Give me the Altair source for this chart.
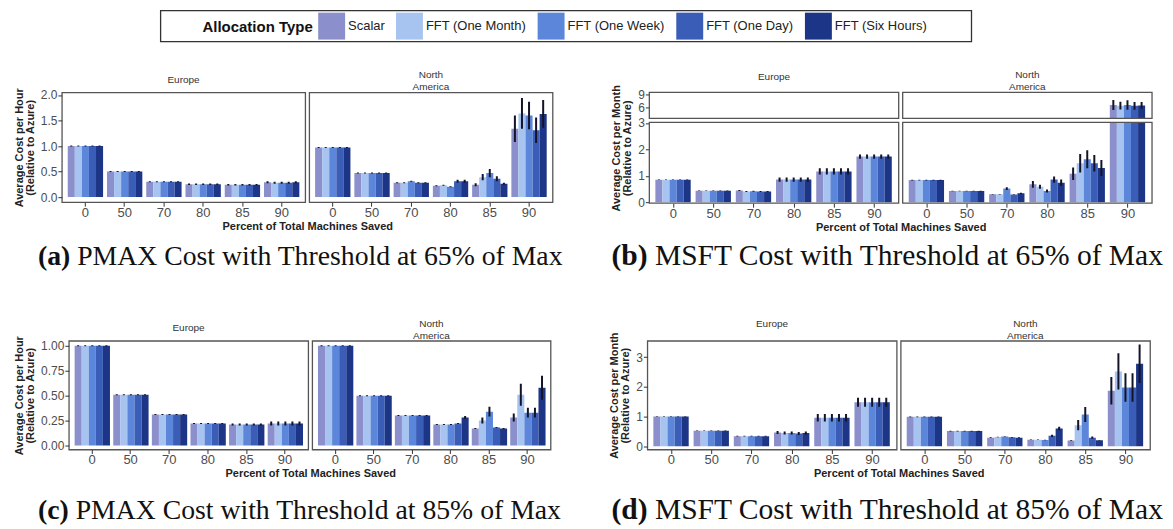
import altair as alt
import pandas as pd

LEVELS = ["0", "50", "70", "80", "85", "90"]
TYPES = ["Scalar", "FFT (One Month)", "FFT (One Week)", "FFT (One Day)", "FFT (Six Hours)"]
COLORS = ["#8b8fcb", "#a7c4f1", "#5b86da", "#3a5eb8", "#1d3586"]

# (a) PMAX, threshold 65%
A_EU_MEAN = [[1.0] * 5, [0.5] * 5, [0.3] * 5, [0.25] * 5, [0.24] * 5, [0.29, 0.28, 0.28, 0.28, 0.29]]
A_EU_ERR = [0.01, 0.01, 0.01, 0.015, 0.015, 0.02]
A_NA_MEAN = [[0.97] * 5, [0.47] * 5, [0.28, 0.28, 0.31, 0.28, 0.28], [0.22, 0.23, 0.20, 0.31, 0.31],
             [0.24, 0.39, 0.47, 0.36, 0.26], [1.34, 1.64, 1.60, 1.31, 1.63]]
A_NA_ERR = [0.01, 0.01, 0.01, [0.01, 0.01, 0.01, 0.03, 0.03], [0.03, 0.06, 0.08, 0.05, 0.02],
            [0.26, 0.30, 0.27, 0.25, 0.27]]

# (b) MSFT, threshold 65%
B_EU_MEAN = [[0.85] * 5, [0.44] * 5, [0.45, 0.41, 0.42, 0.41, 0.41], [0.86] * 5, [1.17] * 5, [1.73] * 5]
B_EU_ERR = [0.01, 0.01, 0.02, 0.08, 0.12, 0.08]
B_NA_MEAN = [[0.84] * 5, [0.43] * 5, [0.31, 0.31, 0.52, 0.30, 0.34], [0.68, 0.59, 0.43, 0.86, 0.74],
             [1.08, 1.48, 1.63, 1.48, 1.30], [6.5, 6.35, 6.5, 6.3, 6.4]]
B_NA_ERR = [0.01, 0.01, [0.01, 0.01, 0.05, 0.01, 0.02], [0.13, 0.08, 0.06, 0.12, 0.12],
            [0.24, 0.35, 0.34, 0.31, 0.30], [1.2, 0.9, 1.1, 0.9, 0.8]]

# (c) PMAX, threshold 85%
C_EU_MEAN = [[1.0] * 5, [0.51] * 5, [0.31] * 5, [0.22] * 5, [0.21] * 5, [0.22] * 5]
C_EU_ERR = [0.005, 0.005, 0.005, 0.005, 0.01, 0.02]
C_NA_MEAN = [[1.0] * 5, [0.5] * 5, [0.3] * 5, [0.21, 0.21, 0.21, 0.22, 0.28],
             [0.17, 0.25, 0.34, 0.18, 0.17], [0.28, 0.51, 0.33, 0.33, 0.58]]
C_NA_ERR = [0.005, 0.005, 0.005, [0.005, 0.005, 0.005, 0.005, 0.015], [0.005, 0.03, 0.05, 0.005, 0.005],
            [0.04, 0.11, 0.05, 0.05, 0.12]]

# (d) MSFT, threshold 85%
D_EU_MEAN = [[1.0] * 5, [0.52] * 5, [0.34] * 5, [0.46, 0.45, 0.45, 0.43, 0.45], [0.96] * 5, [1.48] * 5]
D_EU_ERR = [0.01, 0.01, 0.01, 0.05, 0.13, 0.15]
D_NA_MEAN = [[0.99] * 5, [0.51] * 5, [0.29, 0.31, 0.33, 0.30, 0.29], [0.22, 0.22, 0.21, 0.35, 0.60],
             [0.19, 0.71, 1.07, 0.29, 0.20], [1.87, 2.52, 1.98, 1.98, 2.78]]
D_NA_ERR = [0.01, 0.01, 0.01, [0.01, 0.01, 0.01, 0.04, 0.06], [0.01, 0.17, 0.25, 0.04, 0.01],
            [0.46, 0.61, 0.48, 0.48, 0.65]]

CAPTIONS = [("a", "PMAX Cost with Threshold at 65% of Max"), ("b", "MSFT Cost with Threshold at 65% of Max"),
            ("c", "PMAX Cost with Threshold at 85% of Max"), ("d", "MSFT Cost with Threshold at 85% of Max")]
XTITLE = "Percent of Total Machines Saved"
HOUR = ["Average Cost per Hour", "(Relative to Azure)"]
MONTH = ["Average Cost per Month", "(Relative to Azure)"]

FONT = "Liberation Sans"
SERIF = "Liberation Serif"
BORDER = "#555555"
ONE = pd.DataFrame({"k": [0]})


def frame(mean, err):
    rows = []
    for lv, ms, es in zip(LEVELS, mean, err):
        if not isinstance(es, list):
            es = [es] * len(TYPES)
        for t, m, e in zip(TYPES, ms, es):
            rows.append({"level": lv, "type": t, "mean": m, "lo": m - e, "hi": m + e})
    return pd.DataFrame(rows)


color = alt.Color(
    "type:N", sort=TYPES, scale=alt.Scale(domain=TYPES, range=COLORS),
    legend=alt.Legend(
        title="Allocation Type", orient="none", legendX=194, legendY=2, direction="horizontal",
        titleOrient="left", titleFontSize=15, titleFont=FONT, titleFontWeight="bold", titleColor="#111",
        labelFont=FONT, labelFontSize=13, labelColor="#222", symbolType="square", symbolSize=729,
        symbolStrokeWidth=0, symbolOpacity=1, columnPadding=11, labelOffset=3,
        padding=0, titlePadding=5, labelLimit=200,
    ),
)


def panel(mean, err, domain, width, height, rng=None, ticks=None, fmt="", ytitle=None, header=None,
          header_offset=0, broken=None, xtitle=False):
    df = frame(mean, err)
    xkw = dict(labelAngle=0, labelFontSize=13, labelFont=FONT, labelColor="#4d4d4d", labelOverlap=False,
               tickSize=4, tickColor="#333", domain=False, labelPadding=0)
    if xtitle:
        xkw.update(title=XTITLE, titleX=-2, titleFont=FONT, titleFontSize=11, titleFontWeight="bold",
                   titleColor="#222", titlePadding=1)
    else:
        xkw.update(title="")
    x = alt.X("level:N", sort=LEVELS, scale=alt.Scale(paddingInner=0.1, paddingOuter=0.15), axis=alt.Axis(**xkw))
    xo = alt.XOffset("type:N", sort=TYPES, scale=alt.Scale(paddingInner=0, paddingOuter=0))
    if rng is not None:
        yscale = alt.Scale(domain=domain, range=rng, nice=False, zero=False)
    else:
        yscale = alt.Scale(domain=domain, nice=False, zero=False)
    if ytitle is not None:
        yaxis = alt.Axis(values=ticks, tickCount=20, format=fmt, labelFontSize=12, labelFont=FONT,
                         labelColor="#4d4d4d", labelOverlap=False, tickSize=4, tickColor="#333",
                         domain=False, grid=False, labelPadding=1, title=ytitle, titleFont=FONT,
                         titleFontSize=11, titleFontWeight="bold", titleColor="#222", titlePadding=5,
                         titleLineHeight=11)
    else:
        yaxis = None
    bars = alt.Chart(df).mark_bar(clip=True).encode(
        x=x, xOffset=xo, y=alt.Y("mean:Q", scale=yscale, axis=yaxis), y2=alt.datum(0), color=color
    )
    errs = alt.Chart(df).mark_rule(clip=True, strokeWidth=2, color="#141428").encode(
        x=x, xOffset=xo, y=alt.Y("lo:Q", scale=yscale, axis=yaxis), y2="hi:Q"
    )
    layers = [bars, errs]
    props = dict(width=width, height=height)
    if broken is not None:
        lo_top, hi_bot = broken
        gap = alt.Chart(ONE).mark_rect(fill="white", clip=False).encode(
            x=alt.value(-1), x2=alt.value(width + 1), y=alt.datum(hi_bot), y2=alt.datum(lo_top))
        top_box = alt.Chart(ONE).mark_rect(fill="transparent", stroke=BORDER, strokeWidth=1.3).encode(
            x=alt.value(0), x2=alt.value(width), y=alt.datum(domain[-1]), y2=alt.datum(lo_top))
        bot_box = alt.Chart(ONE).mark_rect(fill="transparent", stroke=BORDER, strokeWidth=1.3).encode(
            x=alt.value(0), x2=alt.value(width), y=alt.datum(hi_bot), y2=alt.datum(domain[0]))
        layers += [gap, top_box, bot_box]
        props["view"] = alt.ViewBackground(stroke="transparent")
    else:
        props["view"] = alt.ViewBackground(stroke=BORDER, strokeWidth=1.3)
    if header is not None:
        props["title"] = alt.TitleParams(header, fontSize=10, fontWeight="normal", font=FONT, color="#333",
                                         offset=header_offset, anchor="middle", lineHeight=12)
    return alt.layer(*layers).properties(**props)


def spacer(h=1, w=1):
    return alt.Chart(ONE).mark_rect(opacity=0).encode(
        x=alt.value(0), x2=alt.value(1), y=alt.value(0), y2=alt.value(1)).properties(
        width=w, height=h, view=alt.ViewBackground(stroke="transparent"))


def caption_row(pair, lefts, sizes, cap_y, height):
    layers = []
    for (letter, text), left, fs in zip(pair, lefts, sizes):
        layers.append(alt.Chart(ONE).mark_text(
            text="(" + letter + ")", font=SERIF, fontSize=fs, fontWeight="bold", align="left",
            baseline="alphabetic", color="#111").encode(x=alt.value(left), y=alt.value(cap_y)))
        em = {"a": 1.166, "b": 1.222, "c": 1.11, "d": 1.222}[letter]
        layers.append(alt.Chart(ONE).mark_text(
            text=text, font=SERIF, fontSize=fs, align="left", baseline="alphabetic",
            color="#111").encode(x=alt.value(left + fs * (em + 0.25)), y=alt.value(cap_y)))
    return alt.layer(*layers).properties(width=1, height=height, view=alt.ViewBackground(stroke="transparent"))


# legend row with the framing box
legend_row = alt.Chart(ONE).mark_rect(fill="transparent", stroke="#333", strokeWidth=1.3).encode(
    x=alt.value(152), x2=alt.value(965), y=alt.value(0), y2=alt.value(31)
).properties(width=1, height=57, view=alt.ViewBackground(stroke="transparent"))

A_DOM = [-0.1, 2.05]
B_DOM = [-0.03, 3.02, 3.33, 9.47]
B_RNG = [111, 30, 26, 0]
C_DOM = [-0.04, 1.05]
D_DOM = [-0.11, 3.55]

a_eu = panel(A_EU_MEAN, A_EU_ERR, A_DOM, 244, 110, ticks=[0, 0.5, 1, 1.5, 2], fmt=".1f", ytitle=HOUR,
             header="Europe", header_offset=3)
a_na = panel(A_NA_MEAN, A_NA_ERR, A_DOM, 244, 110, header=["North", "America"], xtitle=True)
b_eu = panel(B_EU_MEAN, B_EU_ERR, B_DOM, 250, 111, rng=B_RNG, ticks=[0, 1, 2, 3, 6, 9], fmt="d",
             ytitle=MONTH, header="Europe", header_offset=3, broken=(3.33, 3.02))
b_na = panel(B_NA_MEAN, B_NA_ERR, B_DOM, 250, 111, rng=B_RNG, header=["North", "America"],
             broken=(3.33, 3.02), xtitle=True)

c_eu = panel(C_EU_MEAN, C_EU_ERR, C_DOM, 240, 109, ticks=[0, 0.25, 0.5, 0.75, 1], fmt=".2f", ytitle=HOUR,
             header="Europe", header_offset=3)
c_na = panel(C_NA_MEAN, C_NA_ERR, C_DOM, 239, 109, header=["North", "America"], xtitle=True)
d_eu = panel(D_EU_MEAN, D_EU_ERR, D_DOM, 250, 109, ticks=[0, 1, 2, 3], fmt="d", ytitle=MONTH,
             header="Europe", header_offset=3)
d_na = panel(D_NA_MEAN, D_NA_ERR, D_DOM, 250, 109, header=["North", "America"], xtitle=True)


def pair(eu, na):
    return alt.hconcat(eu, na, spacing=4, bounds="flush")


row1 = alt.hconcat(alt.hconcat(spacer(w=2), pair(a_eu, a_na), spacing=0), pair(b_eu, b_na), spacing=56)
row2 = alt.hconcat(alt.hconcat(spacer(w=2), pair(c_eu, c_na), spacing=0), pair(d_eu, d_na), spacing=56)

cap1 = caption_row(CAPTIONS[:2], [29, 604], [27.8, 29.6], 31, 83)
cap2 = caption_row(CAPTIONS[2:], [29, 604], [27.8, 29.6], 39, 46)

chart = alt.vconcat(legend_row, row1, cap1, row2, cap2, spacing=0).properties(padding=0)

chart.save("out.html", embed_options={"renderer": "svg", "actions": False})
